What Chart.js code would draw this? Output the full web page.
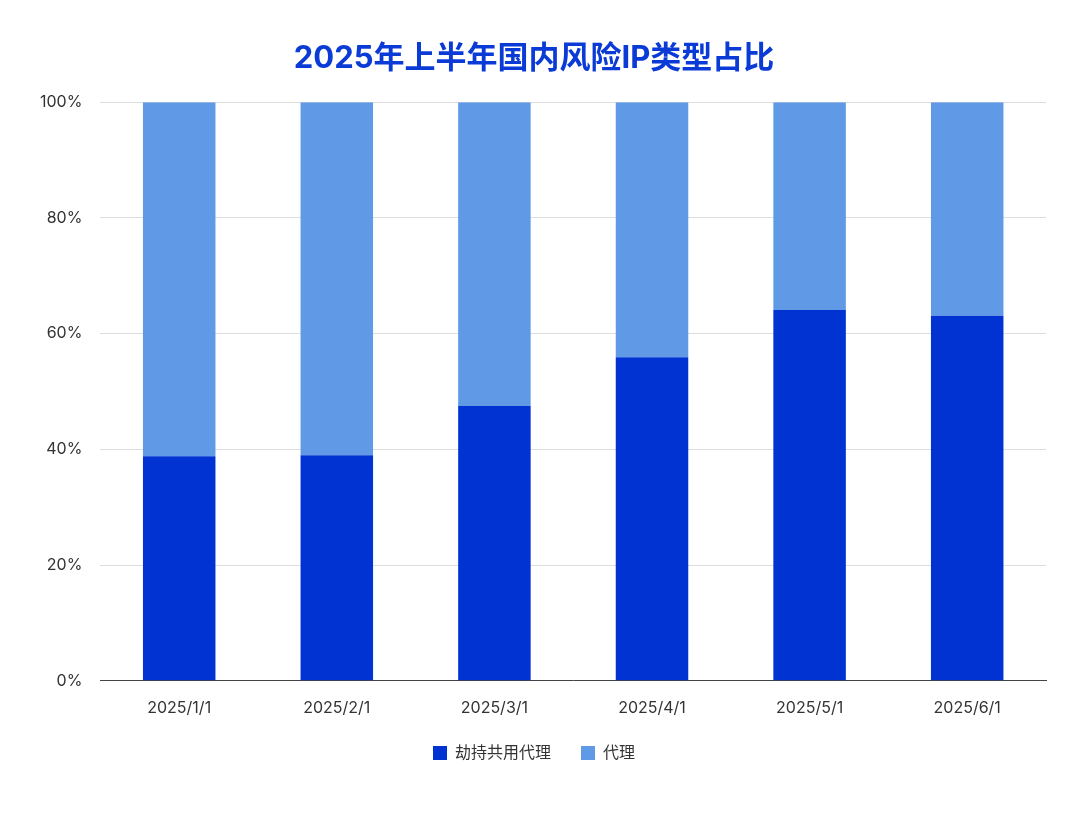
<!DOCTYPE html>
<html>
<head>
<meta charset="utf-8">
<script src="https://cdn.jsdelivr.net/npm/chart.js@4/dist/chart.umd.min.js"></script>
<style>
  html, body { margin: 0; padding: 0; background: #fff; }
  #wrap { width: 1080px; height: 815px; position: relative; }
</style>
</head>
<body>
<div id="wrap"><canvas id="c"></canvas></div>
<script>
// datos
const months = ['2025/1/1', '2025/2/1', '2025/3/1', '2025/4/1', '2025/5/1', '2025/6/1'];
const hijackProxy = [38.8, 39.0, 47.5, 55.9, 64.1, 63.1];
const proxy = hijackProxy.map(v => +(100 - v).toFixed(1));

const font = "Inter, 'Noto Sans CJK SC', sans-serif";

new Chart(document.getElementById('c').getContext('2d'), {
    type: 'bar',
    data: {
        labels: months,
        datasets: [
            { label: '劫持共用代理', data: hijackProxy, backgroundColor: '#0033d1' },
            { label: '代理', data: proxy, backgroundColor: '#6099e6' }
        ]
    },
    options: {
        responsive: true,
        maintainAspectRatio: false,
        animation: false,
        layout: { padding: { left: 22, right: 34, top: 10, bottom: 44 } },
        datasets: { bar: { categoryPercentage: 1, barPercentage: 0.46 } },
        plugins: {
            title: {
                display: true,
                text: '2025年上半年国内风险IP类型占比',
                color: '#0a3bd6',
                font: { family: font, size: 31, weight: 'bold' },
                padding: { top: 30, bottom: 25 }
            },
            legend: {
                position: 'bottom',
                labels: {
                    boxWidth: 14, boxHeight: 14, padding: 30,
                    color: '#333', font: { family: font, size: 16 }
                }
            },
            tooltip: { enabled: false }
        },
        scales: {
            x: {
                stacked: true,
                grid: { display: false },
                border: { color: '#444' },
                ticks: { color: '#333', font: { family: font, size: 16 }, padding: 10 },
                afterFit: scale => { scale.height -= 13; }
            },
            y: {
                stacked: true,
                min: 0, max: 100,
                ticks: { stepSize: 20, color: '#333', padding: 18, font: { family: font, size: 16 }, callback: v => v + '%' },
                grid: { color: '#dddddd', drawTicks: false },
                border: { display: false }
            }
        }
    }
});
</script>
</body>
</html>
